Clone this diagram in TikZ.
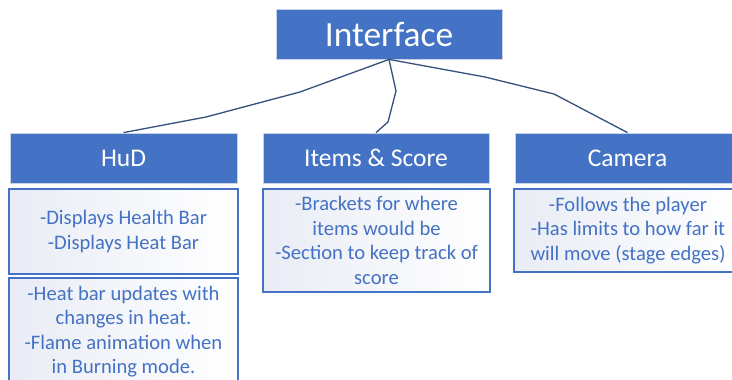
\documentclass[tikz,border=0pt]{standalone}
\usepackage{fontspec}
\setmainfont{Carlito}
\definecolor{boxblue}{HTML}{4472C4}
\definecolor{linkblue}{HTML}{34507F}
\definecolor{paleblue}{HTML}{E9ECF5}
\definecolor{rimgrey}{HTML}{C9D3E8}
\begin{document}
\begin{tikzpicture}[x=1pt,y=-1pt,
  titlebox/.style={draw=rimgrey, line width=0.8pt, fill=boxblue, text=white, inner sep=0pt},
  descbox/.style={draw=boxblue, line width=1.8pt, left color=paleblue, right color=white, text=boxblue, align=center, inner sep=0pt, font=\fontsize{20.6}{24.5}\selectfont},
  link/.style={draw=linkblue, line width=1.3pt, line join=round}]
\useasboundingbox[fill=white] (0,0) rectangle (732,380);

\node[titlebox, minimum width=226pt, minimum height=50pt, font=\fontsize{35.4}{40}\selectfont] (interface) at (389,34) {Interface};

\node[titlebox, minimum width=227pt, minimum height=50pt, font=\fontsize{25.5}{30}\selectfont] (hud) at (123.5,158) {HuD};
\node[titlebox, minimum width=226pt, minimum height=50pt, font=\fontsize{25.5}{30}\selectfont] (items) at (376,158) {Items \& Score};
\node[titlebox, minimum width=225pt, minimum height=50pt, font=\fontsize{25.5}{30}\selectfont] (camera) at (627.5,158) {Camera};

\node[descbox, minimum width=229pt, minimum height=85pt] (hudshow) at (123.5,231.5) {-Displays Health Bar\\-Displays Heat Bar};
\node[descbox, minimum width=229pt, minimum height=107pt] (hudheat) at (123.5,331.5) {-Heat bar updates with\\changes in heat.\\-Flame animation when\\in Burning mode.};
\node[descbox, minimum width=227pt, minimum height=103pt] (itemsinfo) at (376.5,240.5) {-Brackets for where\\items would be\\-Section to keep track of\\score};
\node[descbox, minimum width=228pt, minimum height=83pt] (camerainfo) at (628,230.5) {-Follows the player\\-Has limits to how far it\\will move (stage edges)};

\path[link] (interface.south) -- (300,92) -- (206,117) -- (hud.north);
\path[link] (interface.south) -- (396,91) -- (388,122) -- (items.north);
\path[link] (interface.south) -- (485,77) -- (554,94) -- (camera.north);
\end{tikzpicture}
\end{document}
